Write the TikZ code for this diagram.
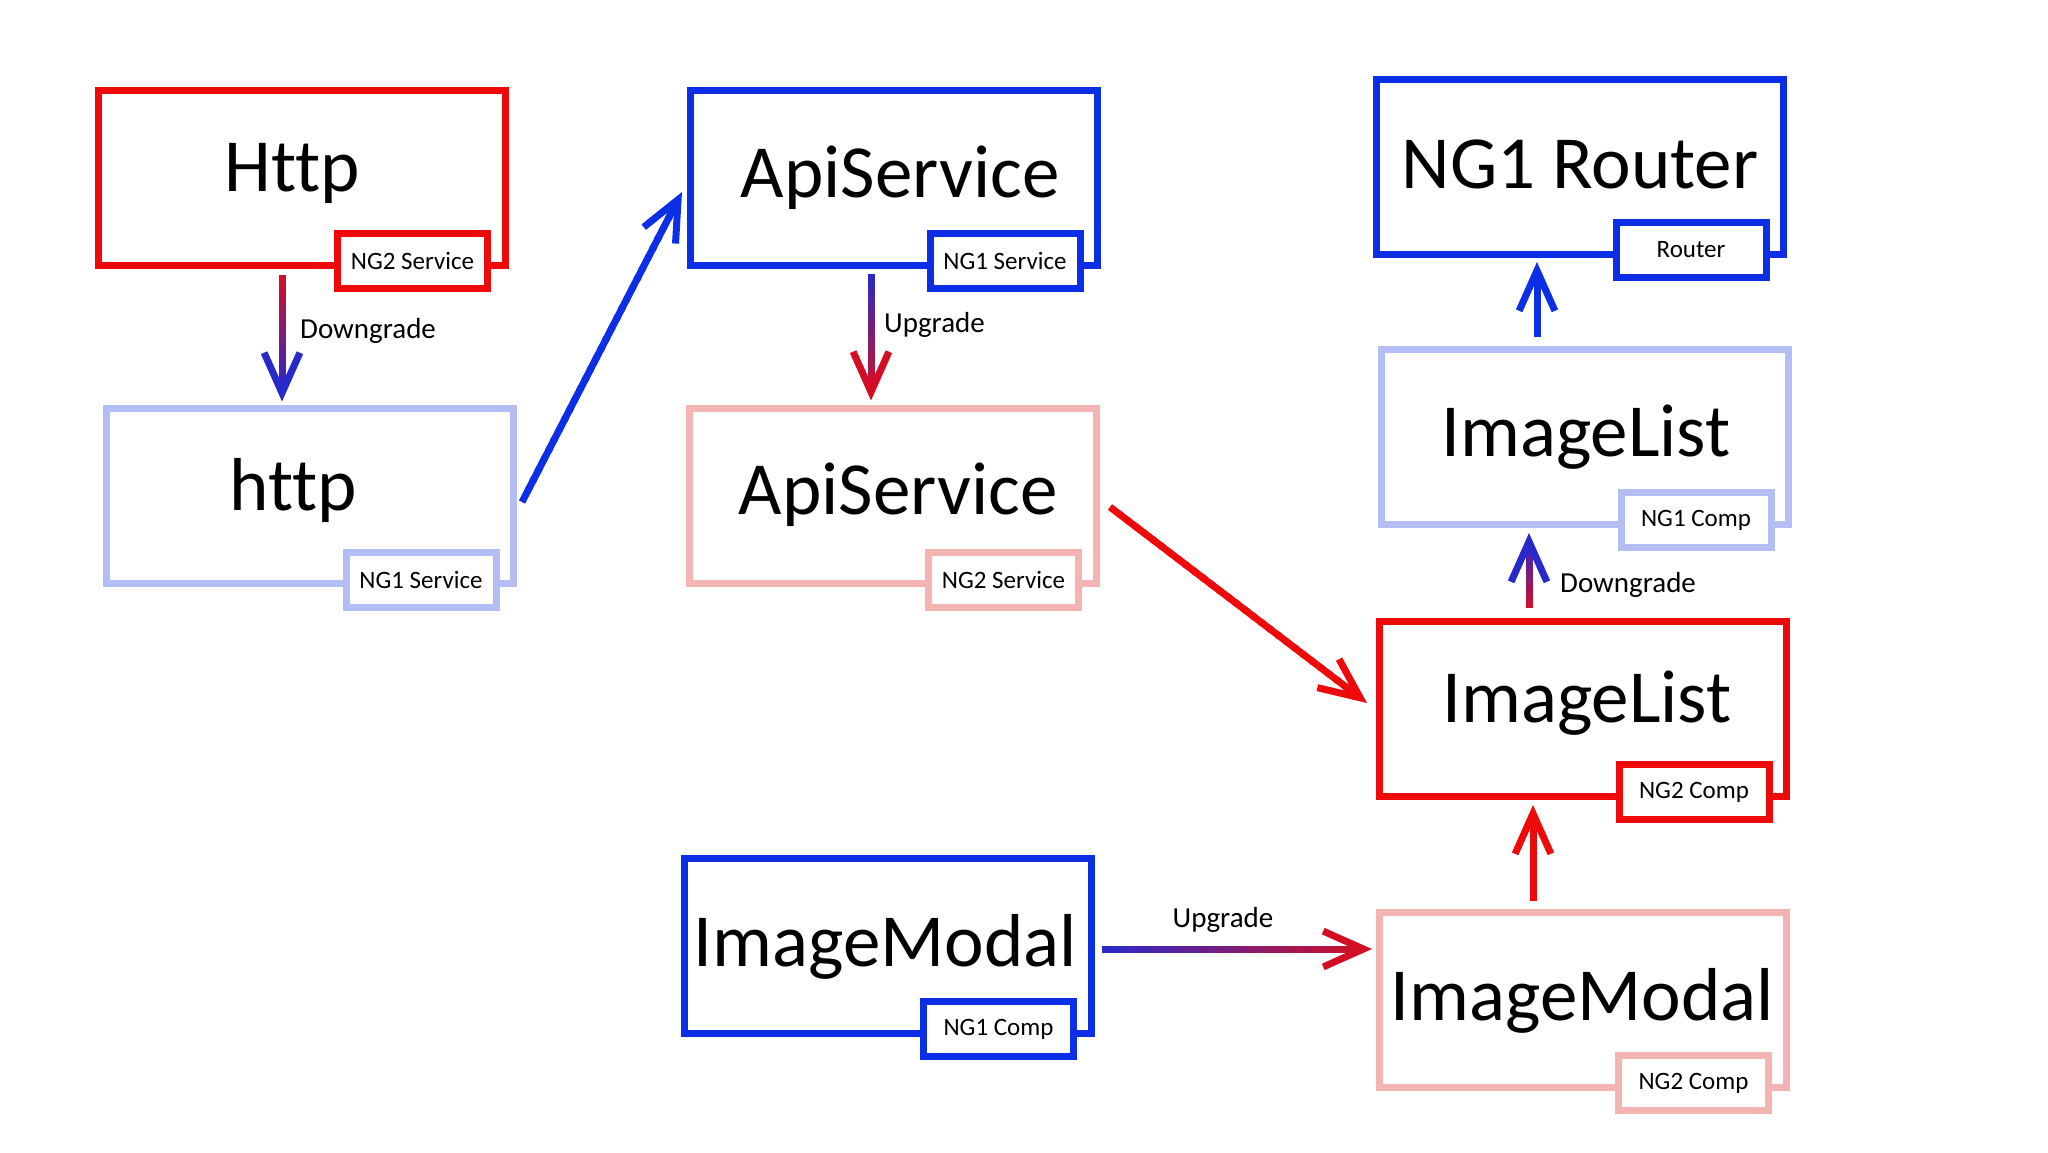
\documentclass[tikz,border=0pt]{standalone}
\usepackage{fontspec}
\setmainfont{Carlito}[Ligatures=NoCommon]
\usetikzlibrary{calc}
\definecolor{ngred}{HTML}{EE0A0A}
\definecolor{ngblue}{HTML}{0C2EE6}
\definecolor{ngltblue}{HTML}{B4BEF5}
\definecolor{ngltred}{HTML}{F4B4B4}
\colorlet{gradblue}{ngblue!88!ngred}
\colorlet{gradred}{ngred!88!ngblue}

% #1 start coordinate, #2 tip coordinate, #3 start colour, #4 end colour
\newcommand\conn[4]{%
  \coordinate (#2-v) at ($(#2)!8.6pt!(#1)$);
  \coordinate (#2-w1) at ($(#2-v)!44pt!24:(#1)$);
  \coordinate (#2-w2) at ($(#2-v)!44pt!-24:(#1)$);
  \foreach \k in {0,...,29}{%
    \pgfmathsetmacro\ta{\k/30}%
    \pgfmathsetmacro\tb{min((\k+1.4)/30,1)}%
    \pgfmathtruncatemacro\pc{round(100-(\k+0.5)*100/30)}%
    \draw[line width=7pt, #3!\pc!#4] ($(#1)!\ta!(#2-v)$) -- ($(#1)!\tb!(#2-v)$);
  }
  \draw[#4, line width=7pt, line join=miter, miter limit=10] (#2-w1) -- (#2-v) -- (#2-w2);
}

\begin{document}
\begin{tikzpicture}[x=1pt,y=-1pt,
  box/.style={draw, line width=7pt, minimum width=407pt, minimum height=175pt, inner sep=0pt, outer sep=0pt},
  tagbox/.style={draw, fill=white, text=black, line width=7pt, minimum width=150pt, minimum height=55pt, inner sep=0pt, outer sep=0pt, font=\fontsize{25}{29}\selectfont},
  bigtext/.style={inner sep=0pt, anchor=base, font=\fontsize{75}{80}\selectfont},
  lbl/.style={inner sep=0pt, font=\fontsize{29}{33}\selectfont}]

\useasboundingbox[fill=white] (0,0) rectangle (2048,1152);

% main boxes
\node[box, draw=ngred]    (Http)   at (301.5,177.5) {};
\node[box, draw=ngltblue] (http)   at (310,496) {};
\node[box, draw=ngblue]   (ApiB)   at (894,177.5) {};
\node[box, draw=ngltred]  (ApiR)   at (892.5,496) {};
\node[box, draw=ngblue]   (Router) at (1580,166.5) {};
\node[box, draw=ngltblue] (ILB)    at (1585,436.5) {};
\node[box, draw=ngred]    (ILR)    at (1583,708.5) {};
\node[box, draw=ngltred]  (IMR)    at (1582.5,999.5) {};
\node[box, draw=ngblue]   (IMB)    at (887.5,945.5) {};

% tags
\node[tagbox, draw=ngred]    (tHttp)   at ($(Http.south east)+(-92.5,-4)$)   {NG2 Service};
\node[tagbox, draw=ngltblue] (thttp)   at ($(http.south east)+(-92.5,-4)$)   {NG1 Service};
\node[tagbox, draw=ngblue]   (tApiB)   at ($(ApiB.south east)+(-92.5,-4)$)   {NG1 Service};
\node[tagbox, draw=ngltred]  (tApiR)   at ($(ApiR.south east)+(-92.5,-4)$)   {NG2 Service};
\node[tagbox, draw=ngblue]   (tRouter) at ($(Router.south east)+(-92.5,-4)$) {Router};
\node[tagbox, draw=ngltblue] (tILB)    at ($(ILB.south east)+(-92.5,-4)$)    {NG1 Comp};
\node[tagbox, draw=ngred]    (tILR)    at ($(ILR.south east)+(-92.5,-4)$)    {NG2 Comp};
\node[tagbox, draw=ngltred]  (tIMR)    at ($(IMR.south east)+(-92.5,-4)$)    {NG2 Comp};
\node[tagbox, draw=ngblue]   (tIMB)    at ($(IMB.south east)+(-92.5,-4)$)    {NG1 Comp};

% titles
\node[bigtext] (xHttp)   at (292,191)    {Http};
\node[bigtext] (xhttp)   at (293,510)    {http};
\node[bigtext] (xApiB)   at (900,197)    {ApiService};
\node[bigtext] (xApiR)   at (898,514.5)  {ApiService};
\node[bigtext] (xRouter) at (1580,188)   {NG1 Router};
\node[bigtext] (xILB)    at (1586,456.5) {ImageList};
\node[bigtext] (xILR)    at (1587,722)   {ImageList};
\node[bigtext] (xIMR)    at (1582,1020)  {ImageModal};
\node[bigtext] (xIMB)    at (885,966)    {ImageModal};

% connector end points
\coordinate (a1s) at ($(Http.south)+(-19.5,10)$);
\coordinate (a1t) at ($(http.north)+(-28,-7)$);
\coordinate (a2s) at ($(http.east)+(8.5,6)$);
\coordinate (a2t) at ($(ApiB.west)+(-8.5,14.5)$);
\coordinate (a3s) at ($(ApiB.south)+(-23,8.6)$);
\coordinate (a3t) at ($(ApiR.north)+(-21.5,-8)$);
\coordinate (a4s) at ($(ApiR.east)+(14,11)$);
\coordinate (a4t) at ($(ILR.west)+(-12.5,-5.5)$);
\coordinate (a5s) at ($(ILB.north)+(-48,-12)$);
\coordinate (a5t) at ($(Router.south)+(-43,8)$);
\coordinate (a6s) at ($(ILR.north)+(-54,-13)$);
\coordinate (a6t) at ($(ILB.south)+(-56,9)$);
\coordinate (a7s) at ($(IMR.north)+(-49.5,-11)$);
\coordinate (a7t) at ($(ILR.south)+(-50,9)$);
\coordinate (a8s) at ($(IMB.east)+(11,3.5)$);
\coordinate (a8t) at ($(IMR.west)+(-7,-50.5)$);

% connectors
\conn{a1s}{a1t}{gradred}{gradblue}
\conn{a2s}{a2t}{ngblue}{ngblue}
\conn{a3s}{a3t}{gradblue}{gradred}
\conn{a4s}{a4t}{ngred}{ngred}
\conn{a5s}{a5t}{ngblue}{ngblue}
\conn{a6s}{a6t}{gradred}{gradblue}
\conn{a7s}{a7t}{ngred}{ngred}
\conn{a8s}{a8t}{gradblue}{gradred}

% connector labels
\node[lbl, anchor=west] (l1) at (300,331)  {Downgrade};
\node[lbl, anchor=west] (l2) at (884,325)  {Upgrade};
\node[lbl, anchor=west] (l3) at (1560,585) {Downgrade};
\node[lbl]              (l4) at (1223,920) {Upgrade};
\end{tikzpicture}
\end{document}
